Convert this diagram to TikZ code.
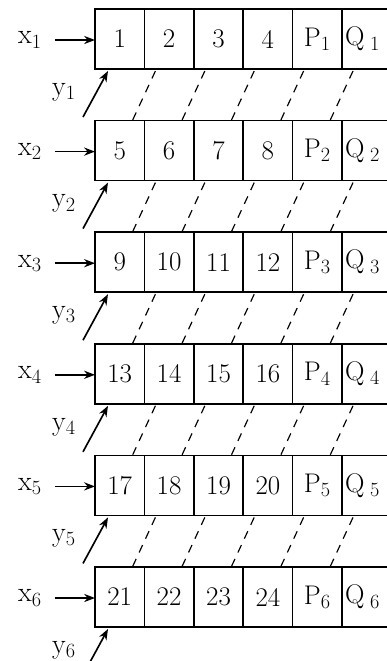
\documentclass[tikz,border=0pt]{standalone}
\usepackage{tikz}
\usetikzlibrary{arrows.meta,calc,positioning}

\begin{document}
\begin{tikzpicture}[x=0.03cm,y=-0.03cm,>=Stealth,line width=1.4pt,
  font=\fontsize{23}{27}\selectfont,
  cell/.style={draw,outer sep=0pt,inner sep=0pt,
    minimum width=1.482cm,minimum height=1.8cm},
  slant/.style={line width=1pt,dash pattern=on 7pt off 6pt}]
  \clip (0,0) rectangle (387,661);
  % six rows of blocks
  \foreach \i in {1,...,6}{
    \pgfmathsetmacro{\rowtop}{9+111.6*(\i-1)}
    \pgfmathtruncatemacro{\na}{4*\i-3}
    \pgfmathtruncatemacro{\nb}{4*\i-2}
    \pgfmathtruncatemacro{\nc}{4*\i-1}
    \pgfmathtruncatemacro{\nd}{4*\i}
    \node[cell,anchor=north west] (c\i1) at (95,\rowtop) {\na};
    \node[cell,right=0pt of c\i1] (c\i2) {\nb};
    \node[cell,right=0pt of c\i2] (c\i3) {\nc};
    \node[cell,right=0pt of c\i3] (c\i4) {\nd};
    \node[cell,right=0pt of c\i4] (c\i5) {P$_{\i}$};
    \node[cell,right=0pt of c\i5,text width=1.8cm,inner xsep=0.09cm,
      align=left] (c\i6) {Q$_{\;\i}$};
    \node[font=\fontsize{24}{28}\selectfont] (x\i) at (30,\rowtop+31) {x$_{\i}$};
    \draw[->,shorten <=7pt] (x\i) -- (x\i -| c\i1.west);
    \node[font=\fontsize{24}{28}\selectfont] (y\i)
      at ($(c\i1.south west)+(-31,23)$) {y$_{\i}$};
    \coordinate (t\i) at ($(c\i1.south west)+(-12,48)$);
    \draw[->] (t\i) -- ($(c\i1.south west)+(13,2)$);
  }
  % dashed links between rows
  \foreach \i [evaluate=\i as \k using int(\i+1)] in {1,...,5}
    \foreach \j in {1,...,5}
      \draw[slant] ($(c\i\j.south east)+(11,2)$) -- ($(c\k\j.north east)+(-12,0)$);
\end{tikzpicture}
\end{document}
